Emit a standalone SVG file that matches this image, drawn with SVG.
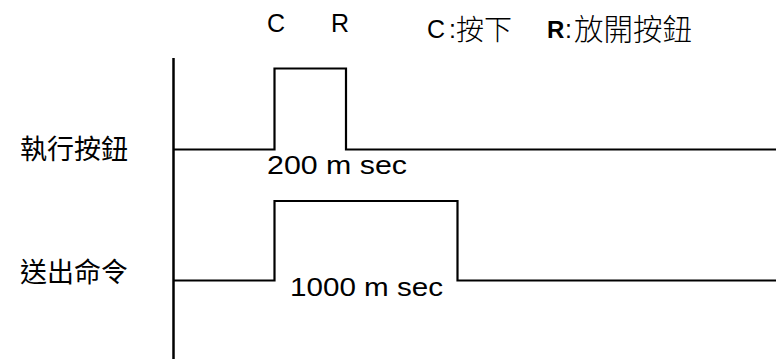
<svg xmlns="http://www.w3.org/2000/svg" width="776" height="359" viewBox="0 0 776 359">
<style>
.lat{font-family:"Liberation Sans",Arial,sans-serif;fill:#000}
.cjk{font-family:"Noto Sans CJK TC","Noto Sans CJK SC",sans-serif;fill:#000;font-weight:300}
.lbl{font-family:"Noto Sans CJK TC","Noto Sans CJK SC",sans-serif;fill:#000;font-weight:400;font-size:27px}
.sig{fill:none;stroke:#000;stroke-width:2.2;stroke-linejoin:miter}
</style>
<rect width="776" height="359" fill="#fff"/>
<g id="legend">
<text class="lat" x="267" y="32" font-size="25">C</text>
<text class="lat" x="331" y="32" font-size="25">R</text>
<text class="lat" x="427" y="38" font-size="25">C</text>
<text class="lat" x="449" y="38" font-size="25">:</text>
<text class="cjk" x="456" y="40" font-size="28">按下</text>
<text class="lat" x="547" y="38" font-size="24" font-weight="bold">R</text>
<text class="lat" x="565" y="38" font-size="25">:</text>
<text class="cjk" x="574" y="40" font-size="29.5">放開按鈕</text>
</g>
<g id="label-exec"><text class="lbl" x="20" y="159">執行按鈕</text></g>
<g id="label-send"><text class="lbl" x="20" y="282">送出命令</text></g>
<g id="connectors">
<line x1="173.5" y1="58" x2="173.5" y2="359" stroke="#000" stroke-width="2.5"/>
<polyline class="sig" points="173,149.5 274.5,149.5 274.5,68.5 346,68.5 346,149.5 776,149.5"/>
<polyline class="sig" points="173,280.5 274.5,280.5 274.5,201 457.5,201 457.5,280.5 776,280.5"/>
</g>
<g id="durations">
<text class="lat" x="267" y="174" font-size="25" textLength="140" lengthAdjust="spacingAndGlyphs">200 m sec</text>
<text class="lat" x="290" y="296" font-size="26" textLength="153" lengthAdjust="spacingAndGlyphs">1000 m sec</text>
</g>
</svg>
